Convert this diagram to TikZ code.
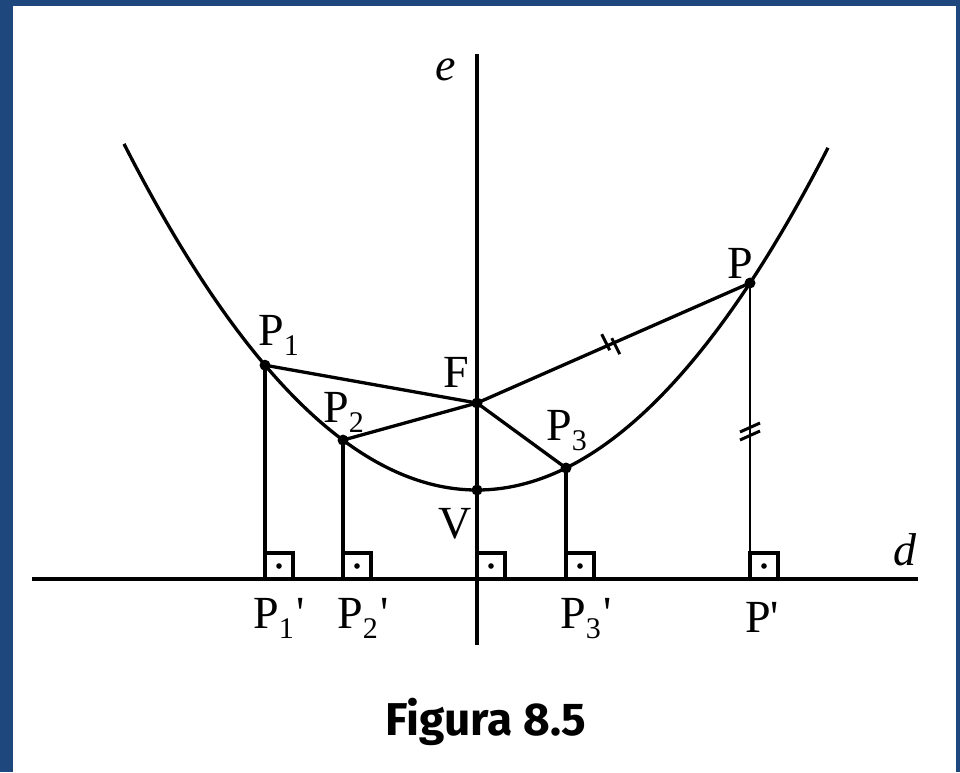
\documentclass[tikz,border=0pt]{standalone}
\usepackage{fontspec}
\setmainfont{Liberation Serif}
\newfontfamily\capfont{Fira Sans}
\definecolor{frameblue}{RGB}{30,72,125}
\newcommand\lblsub[1]{\raisebox{-10pt}{\fontsize{30}{30}\selectfont #1}}
\newcommand\lblprime{\kern3pt\textquotesingle}
\tikzset{
  curve/.style={line width=3.3pt},
  axisline/.style={line width=3.8pt},
  seg/.style={line width=3.3pt},
  dotpt/.style={circle, fill=black, inner sep=0pt, minimum size=11pt},
  lbl/.style={anchor=base west, inner sep=0pt, font=\fontsize{46}{50}\selectfont},
  rbox/.style={line width=3.2pt},
  tick/.style={line width=3pt}
}
\begin{document}
\begin{tikzpicture}[x=1pt,y=-1pt]
\useasboundingbox (0,0) rectangle (960,772);
\fill[frameblue] (0,0) rectangle (960,772);
\fill[white] (13,6) rectangle (956,772);

% axes
\coordinate (etop) at (477,54);
\coordinate (ebot) at (477,645);
\coordinate (dl) at (32,579);
\coordinate (dr) at (918,579);
\draw[axisline] (etop) -- (ebot);
\draw[axisline] (dl) -- (dr);

% parabola: vertex (477,490), 4p = 360
\draw[curve, domain=-353:351, samples=120, smooth] plot ({477+\x}, {490-(\x/18.974)^2});

% points on the parabola
\node[dotpt] (P1) at (265,365.2) {};
\node[dotpt] (P2) at (343,440.1) {};
\node[dotpt] (V)  at (477,490) {};
\node[dotpt] (P3) at (566,468) {};
\node[dotpt] (P)  at (750,283) {};
\node[dotpt] (F)  at (477,403) {};

% feet on the directrix
\coordinate (P1f) at (265,579);
\coordinate (P2f) at (343,579);
\coordinate (Vf)  at (477,579);
\coordinate (P3f) at (566,579);
\coordinate (Pf)  at (750,579);

% segments
\draw[seg] (P1.center) -- (F.center);
\draw[seg] (P2.center) -- (F.center);
\draw[seg] (F.center) -- (P.center);
\draw[seg] (F.center) -- (P3.center);
\draw[seg] (P1.center) -- (P1f);
\draw[seg] (P2.center) -- (P2f);
\draw[line width=4pt] (P3.center) -- (P3f);
\draw[line width=2.8pt] (P.center) -- (Pf);

% right-angle boxes
\foreach \c in {P1f,P2f,Vf,P3f,Pf}{
  \draw[rbox] (\c) rectangle ++(28,-26);
  \fill ([shift={(14,-13)}]\c) circle (2.8pt);
}

% equality ticks
\path (F.center) -- (P.center) coordinate[pos=0.49] (mFP);
\draw[tick] ([shift={(-9,-10)}]mFP) -- ([shift={(-1,6)}]mFP);
\draw[tick] ([shift={(1,-6)}]mFP) -- ([shift={(9,10)}]mFP);
\path (P.center) -- (Pf) coordinate[pos=0.5] (mPP);
\draw[tick] ([shift={(-10,1)}]mPP) -- ([shift={(10,-8)}]mPP);
\draw[tick] ([shift={(-10,9)}]mPP) -- ([shift={(10,0)}]mPP);

% labels
\node[lbl] (le) at (435,80) {\itshape e};
\node[lbl] (ld) at (893,565) {\itshape d};
\node[lbl] (lP) at (727,278) {P};
\node[lbl] (lP1) at (258,345) {P\lblsub{1}};
\node[lbl] (lF) at (443,387) {F};
\node[lbl] (lP2) at (323,422) {P\lblsub{2}};
\node[lbl] (lP3) at (546,440) {P\lblsub{3}};
\node[lbl] (lV) at (438,538) {V};
\node[lbl] (lP1f) at (253,628) {P\lblsub{1}\lblprime};
\node[lbl] (lP2f) at (337,628) {P\lblsub{2}\lblprime};
\node[lbl] (lP3f) at (560,628) {P\lblsub{3}\lblprime};
\node[lbl] (lPf) at (745,632) {P\textquotesingle};

\node[anchor=base, inner sep=0pt, font=\capfont\bfseries\fontsize{46}{50}\selectfont] (cap) at (486,735) {Figura 8.5};
\end{tikzpicture}
\end{document}
